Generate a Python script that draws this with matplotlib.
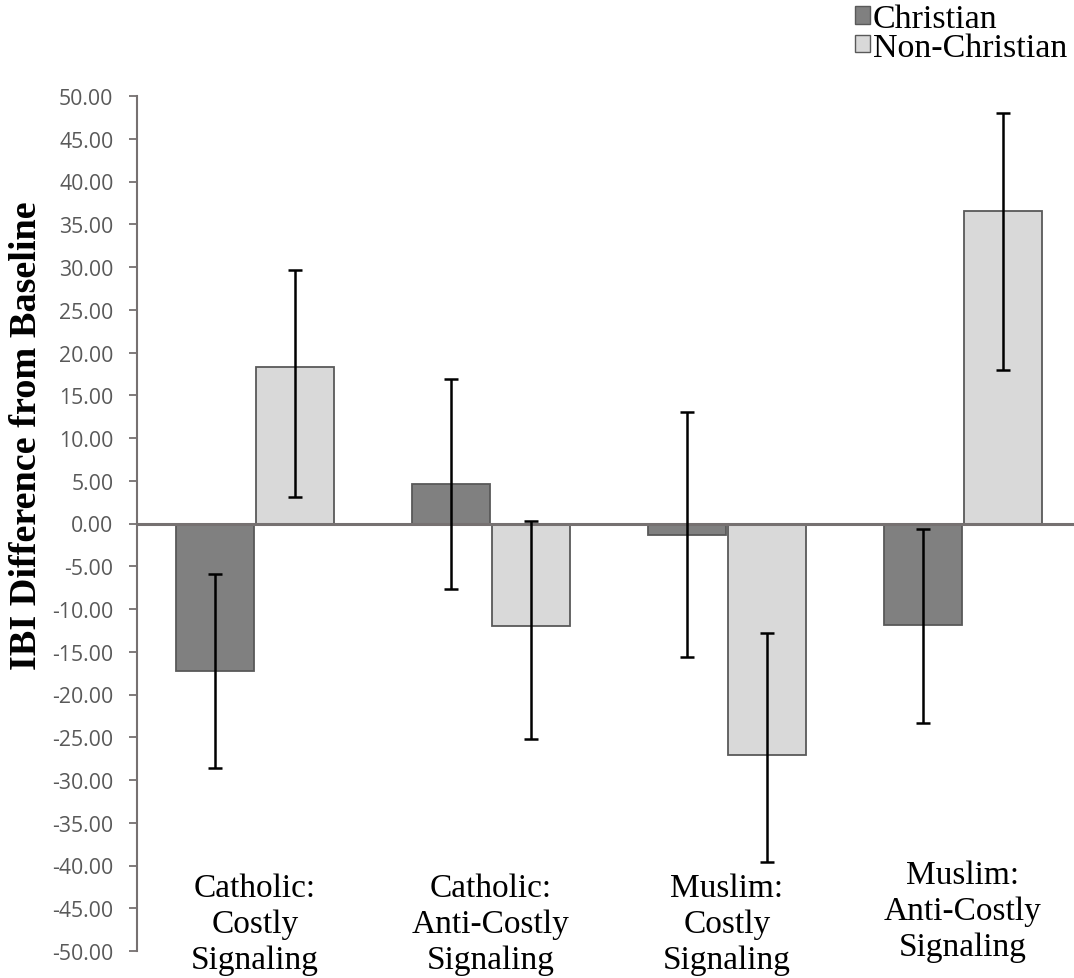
import numpy as np
import matplotlib.pyplot as plt
from matplotlib.patches import Patch

categories = ["Catholic:\nCostly\nSignaling", "Catholic:\nAnti-Costly\nSignaling",
              "Muslim:\nCostly\nSignaling", "Muslim:\nAnti-Costly\nSignaling"]
christian = [-17.3, 4.6, -1.3, -11.9]
christian_lo = [-28.6, -7.7, -15.6, -23.3]
christian_hi = [-5.9, 16.9, 13.0, -0.6]
nonchristian = [18.3, -12.0, -27.1, 36.6]
nonchristian_lo = [3.1, -25.2, -39.6, 17.9]
nonchristian_hi = [29.6, 0.3, -12.8, 48.0]
label_y = [-46.8, -46.8, -46.8, -45.3]

gray = '#767171'
serif = ['Liberation Serif', 'DejaVu Serif']

fig = plt.figure(figsize=(10.74, 9.79), dpi=100)
ax = fig.add_axes([137/1074, 27/979, 944/1074, 855/979])

x = np.arange(len(categories))
w = 0.33
off = 0.169

c = np.array(christian)
n = np.array(nonchristian)
ax.bar(x - off, c, w, color='#808080', edgecolor='#595959', linewidth=1.3, zorder=2)
ax.bar(x + off, n, w, color='#d9d9d9', edgecolor='#595959', linewidth=1.3, zorder=2)
ax.errorbar(x - off, c, yerr=[c - np.array(christian_lo), np.array(christian_hi) - c],
            fmt='none', ecolor='black', elinewidth=1.8, capsize=5, capthick=1.8, zorder=4)
ax.errorbar(x + off, n, yerr=[n - np.array(nonchristian_lo), np.array(nonchristian_hi) - n],
            fmt='none', ecolor='black', elinewidth=1.8, capsize=5, capthick=1.8, zorder=4)

ax.axhline(0, color=gray, lw=2.2, zorder=3)

ax.set_xlim(-0.5, 3.5)
ax.set_ylim(-50, 50)
ax.set_yticks(np.arange(-50, 51, 5))
ax.set_yticklabels(['%.2f' % v for v in np.arange(-50, 51, 5)],
                   fontfamily='Open Sans', fontsize=15.3, color='#595959')
ax.tick_params(axis='y', length=6, width=1.3, color=gray, pad=11)
ax.set_xticks([])
for s in ['top', 'right', 'bottom']:
    ax.spines[s].set_visible(False)
ax.spines['left'].set_color(gray)
ax.spines['left'].set_linewidth(1.5)

for i, lab in enumerate(categories):
    ax.text(x[i], label_y[i], lab, ha='center', va='center', fontfamily=serif,
            fontsize=24, linespacing=1.22)

fig.text(27/1074, 1 - 436/979, 'IBI Difference from Baseline', rotation=90,
         ha='center', va='center', fontfamily=serif, fontweight='bold', fontsize=27.5)

handles = [Patch(facecolor='#808080', edgecolor='#595959', label='Christian'),
           Patch(facecolor='#d9d9d9', edgecolor='#595959', label='Non-Christian')]
fig.legend(handles=handles, loc='upper left', bbox_to_anchor=(852/1074, 1 - 1/979),
           frameon=False, prop={'family': serif, 'size': 24.5},
           handlelength=0.42, handleheight=0.42, handletextpad=0.1,
           labelspacing=-0.05, borderaxespad=0, borderpad=0.1)

fig.savefig('out.png', dpi=100)
